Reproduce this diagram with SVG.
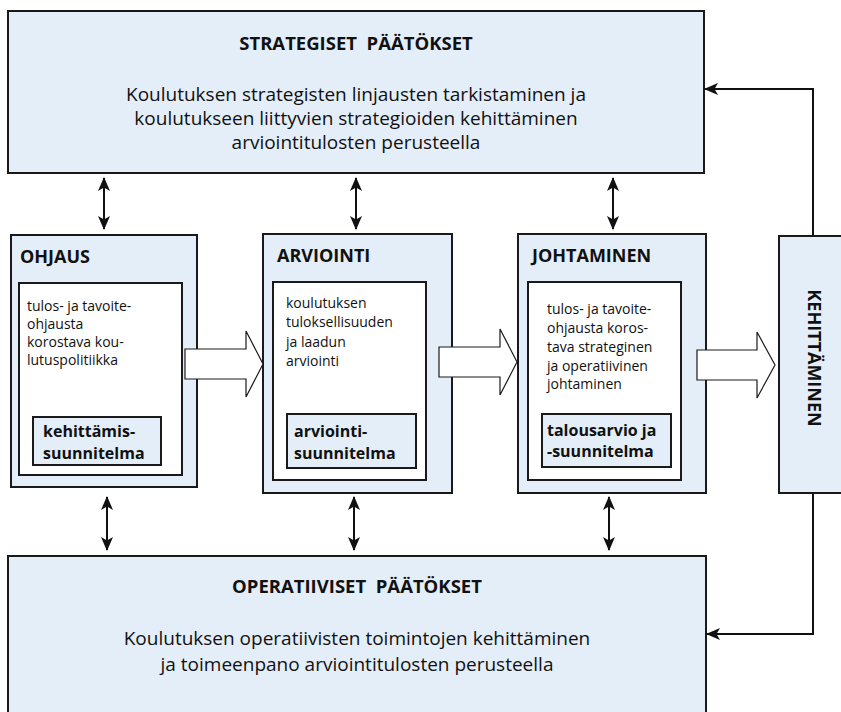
<svg xmlns="http://www.w3.org/2000/svg" width="841" height="712" viewBox="0 0 841 712">
  <style>
    .panel { fill: #e4eef9; stroke: #1a1a1a; stroke-width: 2; }
    .inner { fill: #ffffff; stroke: #1a1a1a; stroke-width: 2; }
    .sub { fill: #e4eef9; stroke: #1a1a1a; stroke-width: 2; }
    .block { fill: #ffffff; stroke: #1a1a1a; stroke-width: 1.2; stroke-linejoin: miter; }
    .link { fill: none; stroke: #111; stroke-width: 2; }
    text { font-family: "Open Sans", Lato, "Liberation Sans", sans-serif; fill: #111; }
    .h1 { font-size: 18.5px; font-weight: bold; text-anchor: middle; }
    .body { font-size: 19px; text-anchor: middle; }
    .h2 { font-size: 18px; font-weight: bold; }
    .small { font-size: 14px; }
    .subt { font-size: 16px; font-weight: bold; }
    .vert { font-size: 18px; font-weight: bold; }
  </style>
  <defs>
    <marker id="head" viewBox="0 0 14 12" refX="13" refY="6" markerWidth="14" markerHeight="12" markerUnits="userSpaceOnUse" orient="auto-start-reverse">
      <path d="M0,0 L14,6 L0,12 L3.5,6 Z" fill="#111"/>
    </marker>
  </defs>

  <!-- upper decision level -->
  <g id="strategiset">
    <rect class="panel" x="8" y="11" width="696" height="162"/>
    <text class="h1" x="356" y="50" xml:space="preserve">STRATEGISET  PÄÄTÖKSET</text>
    <text class="body" x="356" y="101">Koulutuksen strategisten linjausten tarkistaminen ja</text>
    <text class="body" x="356" y="125">koulutukseen liittyvien strategioiden kehittäminen</text>
    <text class="body" x="356" y="149">arviointitulosten perusteella</text>
  </g>

  <g id="ohjaus">
    <rect class="panel" x="11" y="235" width="186" height="252"/>
    <text class="h2" x="20" y="263">OHJAUS</text>
    <rect class="inner" x="19" y="283" width="163" height="192"/>
    <text class="small" x="27" y="311">tulos- ja tavoite-</text>
    <text class="small" x="27" y="329">ohjausta</text>
    <text class="small" x="27" y="347">korostava kou-</text>
    <text class="small" x="27" y="365">lutuspolitiikka</text>
    <rect class="sub" x="33" y="417" width="128" height="48"/>
    <text class="subt" x="43" y="437">kehittämis-</text>
    <text class="subt" x="43" y="459">suunnitelma</text>
  </g>

  <g id="arviointi">
    <rect class="panel" x="263" y="234" width="189" height="259"/>
    <text class="h2" x="277" y="262">ARVIOINTI</text>
    <rect class="inner" x="273" y="282" width="153" height="198"/>
    <text class="small" x="286" y="308">koulutuksen</text>
    <text class="small" x="286" y="327">tuloksellisuuden</text>
    <text class="small" x="286" y="347">ja laadun</text>
    <text class="small" x="286" y="366">arviointi</text>
    <rect class="sub" x="287" y="414" width="129" height="54"/>
    <text class="subt" x="294" y="437">arviointi-</text>
    <text class="subt" x="294" y="459">suunnitelma</text>
  </g>

  <g id="johtaminen">
    <rect class="panel" x="518" y="234" width="188" height="259"/>
    <text class="h2" x="532" y="262">JOHTAMINEN</text>
    <rect class="inner" x="528" y="282" width="153" height="198"/>
    <text class="small" x="547" y="314">tulos- ja tavoite-</text>
    <text class="small" x="547" y="333">ohjausta koros-</text>
    <text class="small" x="547" y="352">tava strateginen</text>
    <text class="small" x="547" y="371">ja operatiivinen</text>
    <text class="small" x="547" y="389">johtaminen</text>
    <rect class="sub" x="542" y="414" width="129" height="53"/>
    <text class="subt" x="547" y="436">talousarvio ja</text>
    <text class="subt" x="547" y="457">-suunnitelma</text>
  </g>

  <g id="kehittaminen">
    <rect class="panel" x="779" y="236" width="74" height="257"/>
    <text class="vert" text-anchor="middle" dominant-baseline="central" transform="translate(815,358) rotate(90)">KEHITTÄMINEN</text>
  </g>

  <!-- lower decision level -->
  <g id="operatiiviset">
    <rect class="panel" x="8" y="556" width="698" height="170"/>
    <text class="h1" x="357" y="593" xml:space="preserve">OPERATIIVISET  PÄÄTÖKSET</text>
    <text class="body" x="357" y="645">Koulutuksen operatiivisten toimintojen kehittäminen</text>
    <text class="body" x="357" y="671">ja toimeenpano arviointitulosten perusteella</text>
  </g>

  <g id="connectors">
    <!-- process flow block arrows -->
    <polygon class="block" points="185,349 246,349 246,331 263,364 246,397 246,379 185,379"/>
    <polygon class="block" points="439,347 500,347 500,329 517,362 500,395 500,377 439,377"/>
    <polygon class="block" points="697,350 757,350 757,332 775,365 757,398 757,380 697,380"/>
    <!-- two-way links to the upper level -->
    <line class="link" x1="104" y1="178" x2="104" y2="229" marker-start="url(#head)" marker-end="url(#head)"/>
    <line class="link" x1="356" y1="178" x2="356" y2="229" marker-start="url(#head)" marker-end="url(#head)"/>
    <line class="link" x1="613" y1="178" x2="613" y2="229" marker-start="url(#head)" marker-end="url(#head)"/>
    <!-- two-way links to the lower level -->
    <line class="link" x1="107" y1="497" x2="107" y2="550" marker-start="url(#head)" marker-end="url(#head)"/>
    <line class="link" x1="354" y1="497" x2="354" y2="550" marker-start="url(#head)" marker-end="url(#head)"/>
    <line class="link" x1="609" y1="497" x2="609" y2="550" marker-start="url(#head)" marker-end="url(#head)"/>
    <!-- development feedback -->
    <polyline class="link" points="813,236 813,89 705,89" marker-end="url(#head)"/>
    <polyline class="link" points="813,493 813,634 707,634" marker-end="url(#head)"/>
  </g>
</svg>
